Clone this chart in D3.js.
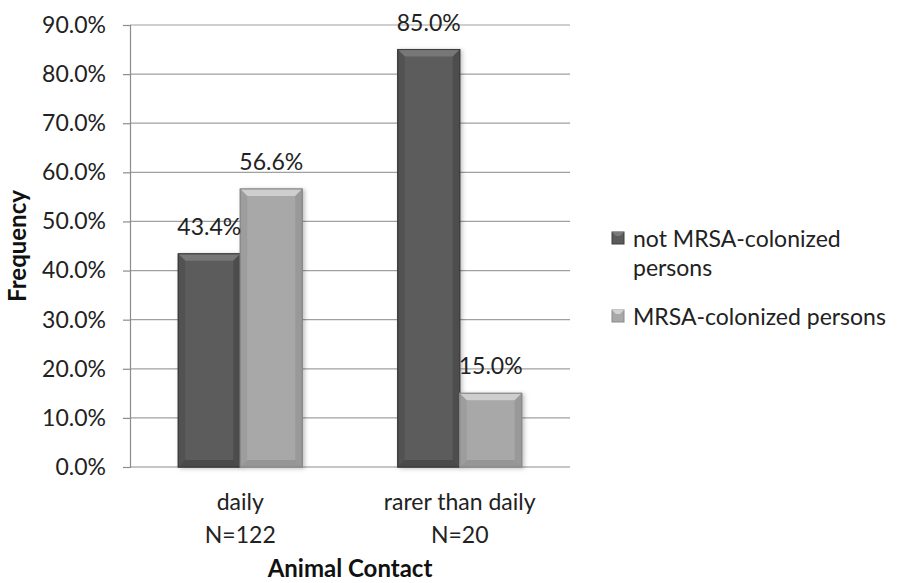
<!DOCTYPE html>
<html>
<head>
<meta charset="utf-8">
<script src="https://cdn.jsdelivr.net/npm/d3@7"></script>
<style>
  html, body { margin: 0; padding: 0; background: #fff; }
  svg { display: block; font-family: Lato, "Open Sans", sans-serif; }
</style>
</head>
<body>
<svg id="chart" width="901" height="583"></svg>
<script>
// Share of persons by frequency of animal contact
const categories = ["daily", "rarer than daily"];
const categorySizes = ["N=122", "N=20"];
const seriesNames = ["not MRSA-colonized persons", "MRSA-colonized persons"];
const notColonized = [43.4, 85.0];
const colonized = [56.6, 15.0];
const yTicks = [0, 10, 20, 30, 40, 50, 60, 70, 80, 90];

const seriesValues = [notColonized, colonized];
const fills = ["#5b5b5b", "#a8a8a8"];
const edges = ["#3e3e3e", "#8a8a8a"];
const tops = ["#7a7a7a", "#d2d2d2"];
const FS = 23;

const svg = d3.select("#chart");
const margin = { left: 130, right: 331, top: 25, bottom: 116 };
const W = 901, H = 583;
const plotW = W - margin.left - margin.right;
const plotH = H - margin.top - margin.bottom;

const x0 = d3.scaleBand().domain(categories).range([0, plotW]).paddingInner(0.435).paddingOuter(0.22);
const x1 = d3.scaleBand().domain(seriesNames).range([0, x0.bandwidth()]);
const y = d3.scaleLinear().domain([0, 90]).range([plotH, 0]);

const g = svg.append("g").attr("transform", `translate(${margin.left},${margin.top})`);

// gridlines
g.append("g").selectAll("line").data(yTicks.filter(d => d > 0)).join("line")
  .attr("x1", 0).attr("x2", plotW)
  .attr("y1", d => y(d)).attr("y2", d => y(d))
  .attr("stroke", "#a0a0a0").attr("stroke-width", 1.2);

// y axis
const yAxis = d3.axisLeft(y).tickValues(yTicks).tickSize(7).tickPadding(17)
  .tickFormat(d => d.toFixed(1) + "%");
const ya = g.append("g").call(yAxis);
ya.select(".domain").attr("stroke", "#8c8c8c").attr("stroke-width", 1.2);
ya.selectAll(".tick line").attr("stroke", "#8c8c8c").attr("stroke-width", 1.2);
ya.selectAll(".tick text").attr("font-size", FS).attr("fill", "#222")
  .attr("font-family", "Lato, 'Open Sans', sans-serif");

// x baseline
g.append("line").attr("x1", 0).attr("x2", plotW).attr("y1", plotH).attr("y2", plotH)
  .attr("stroke", "#8c8c8c").attr("stroke-width", 1.2);

// shadow filter
const defs = svg.append("defs");
const f = defs.append("filter").attr("id", "shadow").attr("x", "-20%").attr("y", "-20%")
  .attr("width", "140%").attr("height", "140%");
f.append("feDropShadow").attr("dx", 2).attr("dy", 1).attr("stdDeviation", 2)
  .attr("flood-color", "#000").attr("flood-opacity", 0.25);

// bars
const bars = [];
categories.forEach((c, ci) => {
  seriesNames.forEach((s, si) => {
    bars.push({ c, s, si, v: seriesValues[si][ci] });
  });
});

const bg = g.append("g").selectAll("g").data(bars).join("g")
  .attr("transform", d => `translate(${x0(d.c) + x1(d.s)},${y(d.v)})`);

const bw = x1.bandwidth();
const bev = 7;
bg.append("rect")
  .attr("width", bw).attr("height", d => plotH - y(d.v))
  .attr("fill", d => fills[d.si]).attr("stroke", d => edges[d.si]).attr("stroke-width", 1.2)
  .attr("filter", "url(#shadow)");
// top bevel
bg.append("path")
  .attr("d", `M0,0 L${bw},0 L${bw - bev},${bev} L${bev},${bev} Z`)
  .attr("fill", d => tops[d.si]).attr("opacity", 0.9);
// bottom bevel
bg.append("path")
  .attr("d", d => { const h = plotH - y(d.v); return `M0,${h} L${bw},${h} L${bw - bev},${h - bev} L${bev},${h - bev} Z`; })
  .attr("fill", d => edges[d.si]).attr("opacity", 0.6);
// side bevels
bg.append("path")
  .attr("d", d => { const h = plotH - y(d.v); return `M0,0 L${bev},${bev} L${bev},${h - bev} L0,${h} Z`; })
  .attr("fill", d => edges[d.si]).attr("opacity", 0.35);
bg.append("path")
  .attr("d", d => { const h = plotH - y(d.v); return `M${bw},0 L${bw - bev},${bev} L${bw - bev},${h - bev} L${bw},${h} Z`; })
  .attr("fill", d => edges[d.si]).attr("opacity", 0.5);
bg.append("rect")
  .attr("width", bw).attr("height", d => plotH - y(d.v))
  .attr("fill", "none").attr("stroke", d => edges[d.si]).attr("stroke-width", 1);

// value labels
g.append("g").selectAll("text").data(bars).join("text")
  .attr("x", d => x0(d.c) + x1(d.s) + bw / 2)
  .attr("y", d => y(d.v) - 19)
  .attr("text-anchor", "middle").attr("font-size", FS).attr("fill", "#222")
  .text(d => d.v.toFixed(1) + "%");

// category labels
const cl = g.append("g").selectAll("text").data(categories).join("text")
  .attr("text-anchor", "middle").attr("font-size", FS).attr("fill", "#222");
cl.append("tspan").attr("x", d => x0(d) + x0.bandwidth() / 2).attr("y", plotH + 43).text(d => d);
cl.append("tspan").attr("x", d => x0(d) + x0.bandwidth() / 2).attr("y", plotH + 76)
  .text((d, i) => categorySizes[i]);

// axis titles
svg.append("text").attr("x", margin.left + plotW / 2).attr("y", 577)
  .attr("text-anchor", "middle").attr("font-size", 24).attr("font-weight", "bold").attr("fill", "#111")
  .text("Animal Contact");
svg.append("text").attr("transform", `translate(26,${margin.top + plotH / 2}) rotate(-90)`)
  .attr("text-anchor", "middle").attr("font-size", 24).attr("font-weight", "bold").attr("fill", "#111")
  .text("Frequency");

// legend
const legend = svg.append("g");
const legendItems = [
  { si: 0, lines: ["not MRSA-colonized", "persons"], y: 238 },
  { si: 1, lines: ["MRSA-colonized persons"], y: 316 }
];
legendItems.forEach(it => {
  legend.append("rect").attr("x", 612).attr("y", it.y - 6).attr("width", 12).attr("height", 12)
    .attr("fill", fills[it.si]).attr("stroke", edges[it.si]);
  legend.append("path")
    .attr("d", `M612,${it.y - 6} L624,${it.y - 6} L620,${it.y - 2} L616,${it.y - 2} Z`)
    .attr("fill", tops[it.si]);
  const t = legend.append("text").attr("font-size", FS).attr("fill", "#222");
  it.lines.forEach((ln, k) => {
    t.append("tspan").attr("x", 633).attr("y", it.y + 9 + k * 29).text(ln);
  });
});
</script>
</body>
</html>
